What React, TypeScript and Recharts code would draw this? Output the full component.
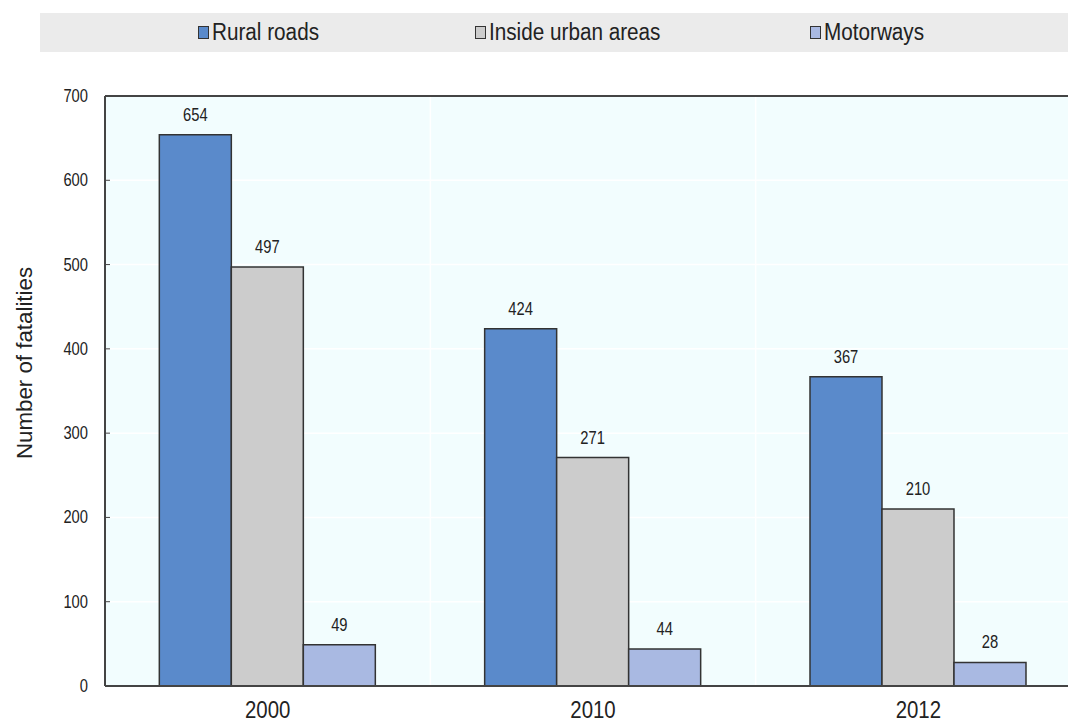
import React from 'react';
import {
  BarChart,
  Bar,
  XAxis,
  YAxis,
  CartesianGrid,
  Legend,
  LabelList,
  ReferenceLine,
} from 'recharts';

const YEARS = ['2000', '2010', '2012'];
const RURAL_ROADS = [654, 424, 367];
const URBAN_AREAS = [497, 271, 210];
const MOTORWAYS = [49, 44, 28];
const Y_TICKS = [0, 100, 200, 300, 400, 500, 600, 700];
const BOUNDARY_TICKS = [0, 1, 2, 3];

const SERIES = [
  { key: 'rural', name: 'Rural roads', color: '#5a8acb' },
  { key: 'urban', name: 'Inside urban areas', color: '#cccccc' },
  { key: 'motorways', name: 'Motorways', color: '#a9b9e2' },
];

const FONT = '"Liberation Sans", Arial, sans-serif';
const TEXT = '#222';
const FRAME = '#444';

const data = YEARS.map((year, i) => ({
  year,
  idx: i,
  rural: RURAL_ROADS[i],
  urban: URBAN_AREAS[i],
  motorways: MOTORWAYS[i],
}));

// legend item left offsets inside the grey strip
const LEGEND_LEFT = [158, 435, 770];

// condensed look: squeeze text horizontally around its anchor
const NarrowText = ({ x, y, size, sx = 0.82, anchor = 'middle', rotate = 0, children }: any) => (
  <text
    transform={`translate(${x},${y}) rotate(${rotate}) scale(${sx},1)`}
    textAnchor={anchor}
    fontSize={size}
    fill={TEXT}
    fontFamily={FONT}
  >
    {children}
  </text>
);

const renderLegend = () => (
  <div
    style={{
      position: 'relative',
      width: 1028,
      height: 39,
      background: '#ebebeb',
      fontFamily: FONT,
      fontSize: 23,
      color: TEXT,
    }}
  >
    {SERIES.map((s, i) => (
      <div
        key={s.key}
        style={{
          position: 'absolute',
          left: LEGEND_LEFT[i],
          top: 0,
          height: 39,
          display: 'flex',
          alignItems: 'center',
          whiteSpace: 'nowrap',
        }}
      >
        <span
          style={{
            display: 'inline-block',
            width: 9,
            height: 11,
            background: s.color,
            border: '1px solid #333',
            marginRight: 3,
          }}
        />
        <span style={{ display: 'inline-block', transform: 'scaleX(0.9)', transformOrigin: 'left center' }}>
          {s.name}
        </span>
      </div>
    ))}
  </div>
);

const YTick = (props: any) => {
  const { x, y, payload } = props;
  return (
    <g>
      <line x1={x + 17} x2={x + 22} y1={y} y2={y} stroke={FRAME} strokeWidth={1} />
      <NarrowText x={x} y={y + 6} size={18} anchor="end">
        {payload.value}
      </NarrowText>
    </g>
  );
};

const XTick = (props: any) => {
  const { x, y, payload } = props;
  return (
    <NarrowText x={x} y={y + 32} size={24} sx={0.85}>
      {payload.value}
    </NarrowText>
  );
};

const BoundaryTick = (props: any) => {
  const { x, y, payload } = props;
  if (payload.value === 0 || payload.value === 3) return null;
  return <line x1={x} x2={x} y1={y} y2={y - 7} stroke={FRAME} strokeWidth={1} />;
};

const ValueLabel = (props: any) => {
  const { x, y, width, value } = props;
  return (
    <NarrowText x={x + width / 2} y={y - 14} size={18}>
      {value}
    </NarrowText>
  );
};

const YLabel = (props: any) => {
  const { viewBox } = props;
  const cy = viewBox.y + viewBox.height / 2;
  return (
    <NarrowText x={32} y={cy - 28} size={23} sx={0.97} rotate={-90}>
      Number of fatalities
    </NarrowText>
  );
};

export default function App() {
  return (
    <div
      style={{
        position: 'absolute',
        left: 0,
        top: 0,
        width: 1068,
        height: 722,
        overflow: 'hidden',
        background: '#fff',
      }}
    >
      <BarChart
        width={1081}
        height={722}
        data={data}
        margin={{ top: 57, right: 0, bottom: 0, left: 0 }}
        barCategoryGap="16.7%"
        barGap={0}
      >
        <CartesianGrid
          fill="#f2fdfe"
          stroke="#ffffff"
          strokeWidth={1.5}
          xAxisId="bounds"
          vertical={true}
        />
        <XAxis
          xAxisId="bounds"
          type="number"
          dataKey="idx"
          domain={[0, 3]}
          ticks={BOUNDARY_TICKS}
          height={0}
          axisLine={false}
          tickLine={false}
          tickSize={0}
          tick={<BoundaryTick />}
          allowDataOverflow
        />
        <XAxis
          dataKey="year"
          height={36}
          axisLine={{ stroke: FRAME, strokeWidth: 2 }}
          tickLine={false}
          tickSize={0}
          tickMargin={0}
          tick={<XTick />}
        />
        <YAxis
          width={105}
          domain={[0, 700]}
          ticks={Y_TICKS}
          interval={0}
          axisLine={{ stroke: FRAME, strokeWidth: 2 }}
          tickLine={false}
          tickSize={0}
          tickMargin={17}
          tick={<YTick />}
          label={<YLabel />}
        />
        <ReferenceLine y={700} stroke={FRAME} strokeWidth={2} ifOverflow="extendDomain" />
        <Legend
          verticalAlign="top"
          content={renderLegend}
          wrapperStyle={{ position: 'absolute', top: 13, left: 40, width: 1028, height: 39 }}
        />
        {SERIES.map((s) => (
          <Bar
            key={s.key}
            dataKey={s.key}
            name={s.name}
            fill={s.color}
            stroke="#333"
            strokeWidth={1.5}
            isAnimationActive={false}
          >
            <LabelList dataKey={s.key} content={<ValueLabel />} />
          </Bar>
        ))}
      </BarChart>
    </div>
  );
}
